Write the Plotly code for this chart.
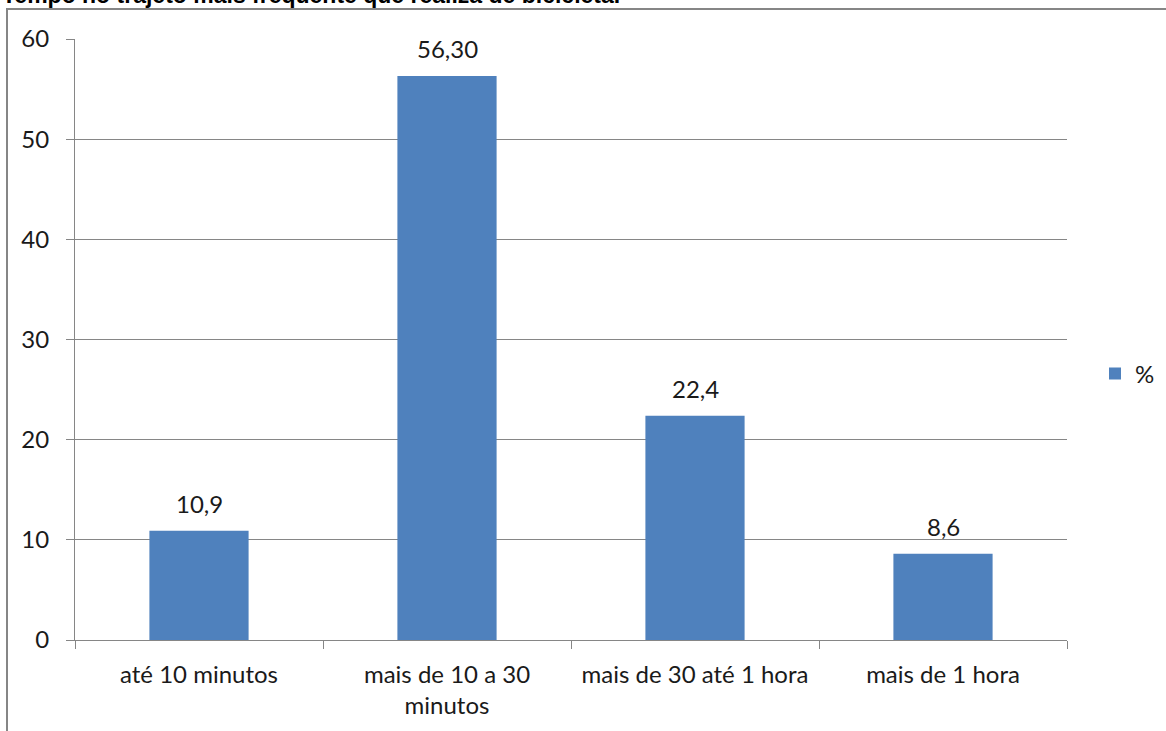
import plotly.graph_objects as go

categories = ["até 10 minutos", "mais de 10 a 30<br>minutos", "mais de 30 até 1 hora", "mais de 1 hora"]
values = [10.9, 56.30, 22.4, 8.6]
value_labels = ["10,9", "56,30", "22,4", "8,6"]
series_name = "%"
title_text = "Tempo no trajeto mais frequente que realiza de bicicleta."

W, H = 1166, 731
ml, mr, mt, mb = 75, 1166 - 1067, 39, 731 - 640
pw = W - ml - mr
ph = H - mt - mb

font_fam = "Lato, 'Open Sans', sans-serif"
fs = 24
txt_col = "#1a1a1a"

fig = go.Figure()
fig.add_trace(go.Bar(
    x=categories, y=values, name=series_name,
    marker=dict(color="#4F81BD", line=dict(width=0)),
))

for c, v, lab in zip(categories, values, value_labels):
    fig.add_annotation(
        x=c, y=v, xref="x", yref="y", text=lab, showarrow=False,
        yanchor="bottom", yshift=11,
        font=dict(family=font_fam, size=fs, color=txt_col),
    )

fig.update_layout(
    width=W, height=H,
    margin=dict(l=ml, r=mr, t=mt, b=mb, autoexpand=False),
    paper_bgcolor="white", plot_bgcolor="white",
    bargap=0.6,
    showlegend=True,
    legend=dict(x=(1095 - ml) / pw, y=(640 - 374) / ph, xanchor="left", yanchor="middle",
                font=dict(family=font_fam, size=fs, color=txt_col),
                itemwidth=30, bgcolor="rgba(0,0,0,0)"),
    xaxis=dict(
        showgrid=False, showline=True, linecolor="#868686", linewidth=1,
        ticks="outside", tickson="boundaries", ticklen=8, tickcolor="#868686",
        tickfont=dict(family=font_fam, size=fs, color=txt_col),
        ticklabelstandoff=13,
        fixedrange=True,
    ),
    yaxis=dict(
        range=[0, 60], dtick=10, showgrid=True, gridcolor="#868686", gridwidth=1,
        showline=True, linecolor="#868686", linewidth=1,
        ticks="outside", ticklen=8, tickcolor="#868686",
        tickfont=dict(family=font_fam, size=fs, color=txt_col),
        zeroline=False, ticklabelstandoff=12,
    ),
)

# clipped title at the top
fig.add_annotation(
    text="<b>" + title_text + "</b>", xref="paper", yref="paper",
    x=(0 - ml) / pw, y=1 + (mt - (-5)) / ph, xanchor="left", yanchor="middle",
    showarrow=False, font=dict(family="Liberation Sans, Arial, sans-serif", size=23, color="black"),
)

# outer chart border (extends past the visible frame)
fig.add_shape(
    type="rect", xref="paper", yref="paper",
    x0=(7 - ml) / pw, x1=(1200 - ml) / pw,
    y0=(640 - 760) / ph, y1=1 + (mt - 9) / ph,
    line=dict(color="#868686", width=2), fillcolor="rgba(0,0,0,0)", layer="below",
)

fig.write_html(
    "out.html",
    config={"displayModeBar": False},
    post_script="document.body.style.margin='0';document.body.style.overflow='hidden';"
                "document.documentElement.style.overflow='hidden';",
)
